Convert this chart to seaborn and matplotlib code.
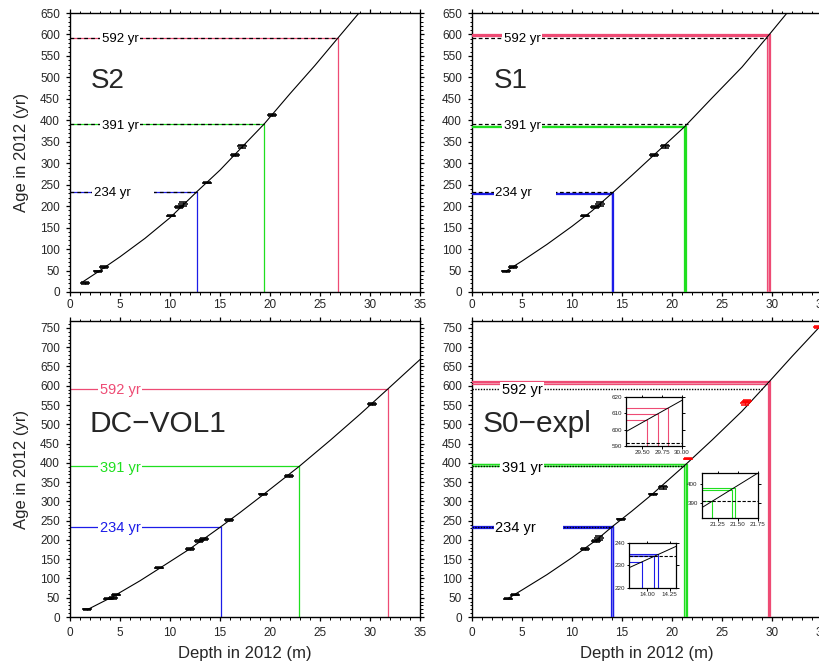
import matplotlib
matplotlib.use('Agg')
import matplotlib.pyplot as plt
import seaborn as sns

# ---- data ----
ref_ages = [234, 391, 592]
ref_labels = ['234 yr', '391 yr', '592 yr']

# S2
s2_pt_depth = [1.5, 2.8, 3.4, 10.1, 10.9, 11.3, 13.7, 16.5, 17.2, 20.2]
s2_pt_age = [21, 48, 58, 178, 198, 205, 255, 319, 339, 412]
s2_pt_err = [2, 2, 2, 2, 3, 4, 2, 2, 4, 2]
s2_curve_depth = [1.3, 3, 5, 7.5, 10, 12.7, 15, 17.5, 19.4, 22, 24.5, 26.8, 28.9, 29.5]
s2_curve_age = [24, 50, 82, 125, 173, 234, 284, 345, 391, 462, 528, 592, 650, 668]
s2_mark_depth = [12.7, 19.4, 26.8]

# S1
s1_pt_depth = [3.4, 4.1, 11.3, 12.3, 12.8, 18.2, 19.3]
s1_pt_age = [48, 58, 178, 198, 205, 319, 339]
s1_pt_err = [2, 2, 2, 3, 4, 2, 4]
s1_curve_depth = [3.5, 5, 7.5, 10, 12, 14, 16, 18, 21.3, 24, 27, 29.7, 31.5, 32.2]
s1_curve_age = [50, 72, 111, 153, 189, 230, 272, 315, 386, 452, 524, 599, 650, 670]
s1_ref_depth = [14.2, 21.6, 29.5]
s1_band_age = [[229.0, 230.0, 231.0], [384.4, 386.0, 387.5], [597.0, 599.0, 601.0]]
s1_band_depth = [[13.95, 14.0, 14.05], [21.17, 21.3, 21.4], [29.5, 29.65, 29.77]]

# DC-VOL1
dc_pt_depth = [1.7, 3.8, 4.3, 4.6, 8.9, 12.0, 12.9, 13.4, 15.9, 19.3, 21.9, 30.2]
dc_pt_age = [20, 48, 49, 58, 128, 177, 197, 203, 251, 318, 366, 553]
dc_pt_err = [2, 2, 2, 2, 2, 2, 3, 3, 2, 2, 2, 2]
dc_curve_depth = [1.8, 4.3, 7, 9, 12, 15.07, 17, 19.3, 22.93, 26, 29, 31.8, 35]
dc_curve_age = [20, 53, 94, 127, 177, 234, 271, 317, 391, 458, 526, 592, 668]
dc_mark_depth = [15.07, 22.93, 31.8]

# S0-expl
s0_pt_depth = [3.6, 4.3, 11.3, 12.4, 12.7, 14.9, 18.1, 19.1]
s0_pt_age = [48, 58, 177, 197, 205, 253, 318, 337]
s0_pt_err = [2, 2, 2, 3, 4, 2, 2, 4]
s0_red_depth = [21.6, 27.3, 27.5, 34.6]
s0_red_age = [411, 554, 560, 753]
s0_red_err = [2, 3, 3, 3]
s0_curve_depth = [3.6, 5, 7.5, 10, 12.5, 14, 16, 18, 21.3, 24, 27, 29.7, 32, 35.2]
s0_curve_age = [48, 70, 110, 154, 201, 234, 275, 318, 394, 459, 534, 610, 676, 765]
s0_ref_depth = [14.0, 21.17, 29.06]
s0_band_age = [[231.6, 234.1, 235.1], [391.0, 396.6, 398.0], [605.7, 609.8, 613.5]]
s0_band_depth = [[13.94, 14.08, 14.12], [21.17, 21.42, 21.46], [29.56, 29.70, 29.83]]

# zoom insets of S0-expl (blue, green, pink)
inset_xlim = [(13.8, 14.32), (21.05, 21.75), (29.3, 30.0)]
inset_ylim = [(220, 240), (382, 405.7), (590, 620)]
inset_xticks = [[14.0, 14.25], [21.25, 21.5, 21.75], [29.5, 29.75, 30.0]]
inset_yticks = [[220, 230, 240], [390, 400], [590, 600, 610, 620]]
inset_curve_depth = [[13.8, 14.32], [21.05, 21.75], [29.3, 30.0]]
inset_curve_age = [[229.0, 238.5], [387.5, 405.7], [598.8, 618.0]]

# ---- style ----
sns.set_theme(style='ticks')
plt.rcParams['font.family'] = ['Liberation Sans', 'DejaVu Sans']
plt.rcParams['axes.linewidth'] = 1.0

cols = ['#1c1ce8', '#1fdf1f', '#ee4b74']
light = ['#a0a0f4', '#a4f2a4', '#f6a6b9']

W, H = 819, 667
fig = plt.figure(figsize=(W / 100, H / 100), dpi=100)


def px_axes(x0, y_top, w, h):
    return fig.add_axes([x0 / W, 1 - (y_top + h) / H, w / W, h / H])


def frame(ax, ymax, fs, top_labels=False, bottom_labels=True, left_label=False):
    ax.set_xlim(0, 35)
    ax.set_ylim(0, ymax)
    ax.set_xticks(range(0, 36, 5))
    ax.set_xticks(range(0, 36, 1), minor=True)
    ax.set_yticks(range(0, int(ymax) + 1, 50))
    ax.set_yticks(range(0, int(ymax) + 1, 10), minor=True)
    ax.tick_params(which='both', direction='out', top=True, right=True, color='black',
                   labelsize=fs, width=0.9, pad=4,
                   labeltop=top_labels, labelbottom=bottom_labels)
    ax.tick_params(which='major', length=3.2)
    ax.tick_params(which='minor', length=1.8, width=0.7)
    for s in ax.spines.values():
        s.set_color('black')
        s.set_linewidth(1.0)
    if left_label:
        ax.set_ylabel('Age in 2012 (yr)', fontsize=12, labelpad=8)


def curve_and_points(ax, cd, ca, pd_, pa, pe, color='black'):
    sns.lineplot(x=cd, y=ca, sort=False, estimator=None, color='black', lw=0.8, ax=ax, zorder=5)
    ax.errorbar(pd_, pa, yerr=pe, fmt='_', ms=7, mew=1.1, color=color, ecolor=color,
                elinewidth=0.9, capsize=3, capthick=0.9, zorder=6)


def tag(ax, x, y, s, color='black', fs=10, ha='center'):
    ax.text(x, y, s, color=color, fontsize=fs, ha=ha, va='center_baseline', zorder=4,
            bbox=dict(facecolor='white', edgecolor='none', pad=1.2))


def bands(ax, band_age, band_depth, fill=True, lw=0.9):
    for i in range(3):
        a, d = band_age[i], band_depth[i]
        if fill:
            ax.fill_between([0, d[0]], a[0], a[-1], color=light[i], lw=0, zorder=2)
            ax.fill_betweenx([0, a[0]], d[0], d[-1], color=light[i], lw=0, zorder=2)
        for aa, dd in zip(a, d):
            ax.plot([0, dd], [aa, aa], color=cols[i], lw=lw, zorder=3)
            ax.plot([dd, dd], [0, aa], color=cols[i], lw=lw, zorder=3)


# ---- S2 ----
ax = px_axes(70, 13, 350, 279)
frame(ax, 650, 8.5, bottom_labels=False, left_label=True)
for i in range(3):
    ax.plot([0, s2_mark_depth[i]], [ref_ages[i]] * 2, color=cols[i], lw=0.9, zorder=2)
    ax.plot([0, s2_mark_depth[i]], [ref_ages[i]] * 2, color='black', lw=0.9,
            ls=(0, (3, 2.5)), zorder=3)
    ax.plot([s2_mark_depth[i]] * 2, [0, ref_ages[i]], color=cols[i], lw=0.9, zorder=2)
tag(ax, 2.35, ref_ages[0], ref_labels[0] + '      ', fs=9.5, ha='left')
tag(ax, 5.0, ref_ages[1], ref_labels[1], fs=9.5)
tag(ax, 5.0, ref_ages[2], ref_labels[2], fs=9.5)
curve_and_points(ax, s2_curve_depth, s2_curve_age, s2_pt_depth, s2_pt_age, s2_pt_err)
ax.text(2.1, 492, 'S2', fontsize=20, ha='left', va='center')

# ---- S1 ----
ax = px_axes(472, 13, 350, 279)
frame(ax, 650, 8.5, bottom_labels=False)
bands(ax, s1_band_age, s1_band_depth)
for i in range(3):
    ax.plot([0, s1_ref_depth[i]], [ref_ages[i]] * 2, color='black', lw=0.9,
            ls=(0, (3, 2)), zorder=3)
tag(ax, 2.35, ref_ages[0], ref_labels[0] + '      ', fs=9.5, ha='left')
tag(ax, 5.0, ref_ages[1], ref_labels[1], fs=9.5)
tag(ax, 5.0, ref_ages[2], ref_labels[2], fs=9.5)
curve_and_points(ax, s1_curve_depth, s1_curve_age, s1_pt_depth, s1_pt_age, s1_pt_err)
ax.text(2.2, 492, 'S1', fontsize=20, ha='left', va='center')

# ---- DC-VOL1 ----
ax = px_axes(70, 321, 350, 296)
frame(ax, 768, 8.5, top_labels=True, left_label=True)
for i in range(3):
    ax.plot([0, dc_mark_depth[i]], [ref_ages[i]] * 2, color=cols[i], lw=0.9, zorder=2)
    ax.plot([dc_mark_depth[i]] * 2, [0, ref_ages[i]], color=cols[i], lw=0.9, zorder=2)
    tag(ax, 5.0, ref_ages[i], ref_labels[i], color=cols[i], fs=10.5)
curve_and_points(ax, dc_curve_depth, dc_curve_age, dc_pt_depth, dc_pt_age, dc_pt_err)
ax.text(2.0, 501, 'DC\u2212VOL1', fontsize=21.5, ha='left', va='center')
ax.set_xlabel('Depth in 2012 (m)', fontsize=12, labelpad=5)

# ---- S0-expl ----
ax = px_axes(472, 321, 350, 296)
frame(ax, 768, 8.5, top_labels=True)
bands(ax, s0_band_age, s0_band_depth)
for i in range(3):
    ax.plot([0, s0_ref_depth[i]], [ref_ages[i]] * 2, color='black', lw=1.0,
            ls=(0, (1, 1)), zorder=3)
tag(ax, 2.35, ref_ages[0], ref_labels[0] + '      ', fs=10.5, ha='left')
tag(ax, 5.0, ref_ages[1], ref_labels[1], fs=10.5)
tag(ax, 5.0, ref_ages[2], ref_labels[2], fs=10.5)
curve_and_points(ax, s0_curve_depth, s0_curve_age, s0_pt_depth, s0_pt_age, s0_pt_err)
ax.errorbar(s0_red_depth, s0_red_age, yerr=s0_red_err, fmt='_', ms=7, mew=1.1, color='red',
            ecolor='red', elinewidth=0.9, capsize=3, capthick=0.9, zorder=6)
ax.text(1.1, 501, 'S0\u2212expl', fontsize=21.5, ha='left', va='center')
ax.set_xlabel('Depth in 2012 (m)', fontsize=12, labelpad=5)

# ---- insets ----
inset_px = [(629, 543, 47, 45), (702, 473, 56, 45), (626, 397, 56, 49)]
for i in range(3):
    ia = px_axes(*inset_px[i])
    ia.set_facecolor('white')
    ia.set_xlim(*inset_xlim[i])
    ia.set_ylim(*inset_ylim[i])
    ia.set_xticks(inset_xticks[i])
    ia.set_yticks(inset_yticks[i])
    ia.set_xticklabels(['%.2f' % v for v in inset_xticks[i]])
    ia.tick_params(direction='out', top=True, right=True, length=1.8, width=0.7,
                   labelsize=4.5, pad=1.2, color='black')
    for s in ia.spines.values():
        s.set_color('black')
        s.set_linewidth(0.9)
    a, d = s0_band_age[i], s0_band_depth[i]
    if i == 0:
        ia.fill_between([inset_xlim[i][0], d[1]], a[1], a[2], color=light[i], lw=0)
    for aa, dd in zip(a, d):
        ia.plot([inset_xlim[i][0], dd], [aa, aa], color=cols[i], lw=0.8)
        ia.plot([dd, dd], [inset_ylim[i][0], aa], color=cols[i], lw=0.8)
    ia.plot(inset_xlim[i], [ref_ages[i]] * 2, color='black', lw=0.8, ls=(0, (3, 1.5)))
    sns.lineplot(x=inset_curve_depth[i], y=inset_curve_age[i], estimator=None,
                 color='black', lw=0.7, ax=ia)
    ia.set_xlabel('')
    ia.set_ylabel('')

fig.savefig('out.png', dpi=100)
